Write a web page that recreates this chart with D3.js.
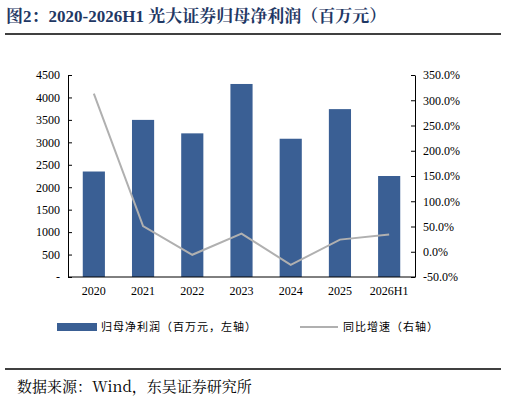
<!DOCTYPE html>
<html><head><meta charset="utf-8">
<script src="https://cdn.jsdelivr.net/npm/d3@7"></script>
<style>body{margin:0;background:#fff}</style>
</head><body>
<svg id="c" width="507" height="402"></svg>
<script>
"use strict";

var years = ["2020", "2021", "2022", "2023", "2024", "2025", "2026H1"];
var profit = [2350, 3500, 3200, 4300, 3080, 3740, 2250];
var growth = [313, 51, -6, 36, -26, 24, 34];
var leftTicks = [0, 500, 1000, 1500, 2000, 2500, 3000, 3500, 4000, 4500];
var rightTicks = [-50, 0, 50, 100, 150, 200, 250, 300, 350];

var svg = d3.select("#c");
var serif = "'Times New Roman','Liberation Serif',serif";
var cjk = "'Noto Sans CJK SC',sans-serif";

svg.append("text").attr("x", 6).attr("y", 22)
    .attr("fill", "#1f3864").attr("font-weight", "bold").attr("font-size", 17)
    .attr("font-family", "'Liberation Serif','Noto Serif CJK SC','Noto Sans CJK SC',serif")
    .text("图2：2020-2026H1 光大证券归母净利润（百万元）");
svg.append("line").attr("x1", 5).attr("x2", 501).attr("y1", 34).attr("y2", 34)
    .attr("stroke", "#000").attr("stroke-width", 1.5);

var x = d3.scaleBand().domain(years).range([68, 415]).paddingInner(0.55).paddingOuter(0.3);
var yL = d3.scaleLinear().domain([0, 4500]).range([277, 75]);
var yR = d3.scaleLinear().domain([-50, 350]).range([277, 75]);

var g = svg.append("g");
g.selectAll("rect").data(profit).enter().append("rect")
    .attr("x", function(d, i) { return x(years[i]); })
    .attr("width", x.bandwidth())
    .attr("y", function(d) { return yL(d); })
    .attr("height", function(d) { return yL(0) - yL(d); })
    .attr("fill", "#3a5f94");

var line = d3.line()
    .x(function(d, i) { return x(years[i]) + x.bandwidth() / 2; })
    .y(function(d) { return yR(d); });
g.append("path").datum(growth).attr("d", line)
    .attr("fill", "none").attr("stroke", "#b0b0b0").attr("stroke-width", 2);

// ticks point inward like the original
var axL = svg.append("g").attr("transform", "translate(68,0)")
    .call(d3.axisLeft(yL).tickValues(leftTicks).tickSizeInner(-4).tickSizeOuter(0).tickPadding(8)
        .tickFormat(function(d) { return d === 0 ? "-" : d; }));
var axR = svg.append("g").attr("transform", "translate(415,0)")
    .call(d3.axisRight(yR).tickValues(rightTicks).tickSizeInner(-4).tickSizeOuter(0).tickPadding(8)
        .tickFormat(function(d) { return d.toFixed(1) + "%"; }));
var axX = svg.append("g").attr("transform", "translate(0,277)")
    .call(d3.axisBottom(x).tickSize(0).tickPadding(9));
axX.select(".domain").attr("d", "M68,0H415");
[axL, axR, axX].forEach(function(a) {
    a.selectAll("text").attr("font-family", serif).attr("font-size", 12).attr("fill", "#000");
    a.selectAll("line,path").attr("stroke", "#000");
});

var lg = svg.append("g").attr("font-family", cjk).attr("font-size", 11).attr("fill", "#000");
lg.append("rect").attr("x", 57).attr("y", 323).attr("width", 40).attr("height", 8).attr("fill", "#3a5f94");
lg.append("text").attr("x", 101).attr("y", 331).attr("letter-spacing", 1).text("归母净利润（百万元，左轴）");
lg.append("line").attr("x1", 300).attr("x2", 338).attr("y1", 327).attr("y2", 327)
    .attr("stroke", "#b0b0b0").attr("stroke-width", 2);
lg.append("text").attr("x", 343).attr("y", 331).attr("letter-spacing", 1).text("同比增速（右轴）");

svg.append("line").attr("x1", 5).attr("x2", 501).attr("y1", 369).attr("y2", 369)
    .attr("stroke", "#000").attr("stroke-width", 1.5);
svg.append("text").attr("x", 17).attr("y", 392).attr("font-family", "'Noto Serif CJK SC','Liberation Serif','Noto Sans CJK SC',serif")
    .attr("font-size", 15).text("数据来源：Wind，东吴证券研究所");
</script>
</body></html>
